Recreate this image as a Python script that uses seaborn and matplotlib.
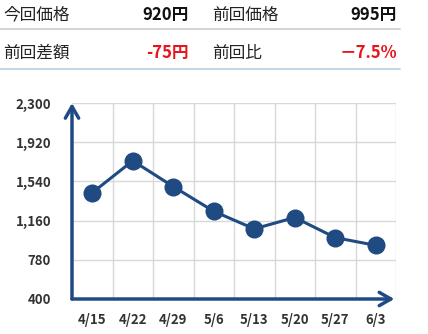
import matplotlib
matplotlib.use("Agg")
import matplotlib.pyplot as plt
import seaborn as sns
import pandas as pd
from matplotlib.lines import Line2D

dates = ["4/15", "4/22", "4/29", "5/6", "5/13", "5/20", "5/27", "6/3"]
prices = [1430, 1740, 1490, 1250, 1080, 1190, 995, 920]
yticks = [400, 780, 1160, 1540, 1920, 2300]
header_labels = ["今回価格", "前回価格", "前回差額", "前回比"]
header_values = ["920円", "995円", "-75円", "－7.5%"]

sns.set_theme(style="white")
plt.rcParams['font.family'] = ['Noto Sans CJK JP', 'DejaVu Sans']

W, H = 428, 334
fig = plt.figure(figsize=(W / 100, H / 100), dpi=100)

def fx(px):
    return px / W

def fy(py):
    return 1 - py / H

# header
navy = "#1f4a82"
red = "#e8141c"
hfs = 12
fig.text(fx(3), fy(15), header_labels[0], fontsize=hfs, color="#222222", va="center", ha="left")
fig.text(fx(189), fy(15), header_values[0], fontsize=hfs, color="#111111", va="center", ha="right", fontweight="bold")
fig.text(fx(212), fy(15), header_labels[1], fontsize=hfs, color="#222222", va="center", ha="left")
fig.text(fx(397), fy(15), header_values[1], fontsize=hfs, color="#111111", va="center", ha="right", fontweight="bold")
fig.text(fx(3), fy(53), header_labels[2], fontsize=hfs, color="#222222", va="center", ha="left")
fig.text(fx(189), fy(53), header_values[2], fontsize=hfs, color=red, va="center", ha="right", fontweight="bold")
fig.text(fx(212), fy(53), header_labels[3], fontsize=hfs, color="#222222", va="center", ha="left")
fig.text(fx(397), fy(53), header_values[3], fontsize=hfs, color=red, va="center", ha="right", fontweight="bold")
fig.add_artist(Line2D([fx(0), fx(400)], [fy(28.5), fy(28.5)], color="#cccccc", lw=1.2))
fig.add_artist(Line2D([fx(0), fx(400)], [fy(68.5), fy(68.5)], color="#b8cfe8", lw=1.2))

# chart
left, right, top, bottom = 72, 396, 103, 299
ax = fig.add_axes([fx(left), fy(bottom), fx(right - left), (bottom - top) / H])
df = pd.DataFrame({"x": list(range(len(dates))), "price": prices})
sns.lineplot(data=df, x="x", y="price", ax=ax, color=navy, lw=2.2,
             marker="o", markersize=13, markeredgewidth=0, zorder=5)
ax.set_xlim(-0.5, len(dates) - 0.5)
ax.set_ylim(yticks[0], yticks[-1])
ax.set_yticks(yticks)
ax.set_yticklabels([f"{v:,}" for v in yticks])
ax.set_xticks(range(len(dates)))
ax.set_xticklabels(dates)
ax.set_xticks([i + 0.5 for i in range(len(dates))], minor=True)
ax.grid(False)
ax.grid(True, which="minor", axis="x", color="#d8d8d8", lw=1)
ax.grid(True, which="major", axis="y", color="#d8d8d8", lw=1)
ax.tick_params(axis="both", which="both", length=0)
ax.tick_params(axis="y", pad=15, labelsize=9.5, labelcolor="#333333")
ax.tick_params(axis="x", pad=10, labelsize=9.5, labelcolor="#333333")
for lab in ax.get_xticklabels() + ax.get_yticklabels():
    lab.set_fontweight("semibold")
ax.set_xlabel("")
ax.set_ylabel("")
for s in ax.spines.values():
    s.set_visible(False)
ax.patch.set_alpha(0)

ax.annotate("", xy=(0, 1.0), xytext=(0, 0), xycoords="axes fraction",
            arrowprops=dict(arrowstyle="->,head_length=0.7,head_width=0.4", color=navy, lw=2.5,
                            shrinkA=0, shrinkB=0), annotation_clip=False)
ax.annotate("", xy=(0.995, 0), xytext=(0, 0), xycoords="axes fraction",
            arrowprops=dict(arrowstyle="->,head_length=0.7,head_width=0.4", color=navy, lw=2.5,
                            shrinkA=0, shrinkB=0), annotation_clip=False)

fig.savefig("out.png", dpi=100)
